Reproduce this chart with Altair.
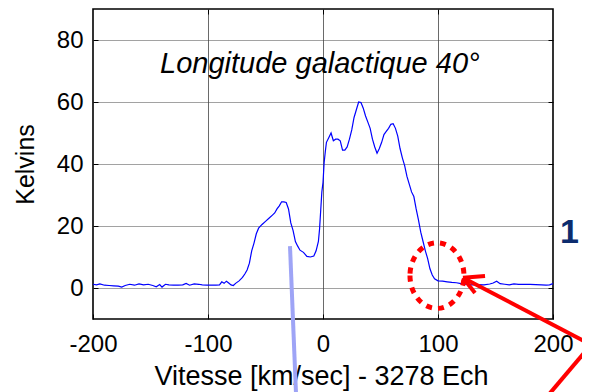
import altair as alt
import pandas as pd

FONT = "Liberation Sans"

# ---- spectrum ----
velocity = [-200, -197, -194, -190, -186, -182, -178, -175, -172, -168, -164, -160, -156, -152,
            -148, -145, -142, -140, -137, -134, -130, -126, -122, -119, -116, -112, -108, -105,
            -101, -97, -93, -90, -88, -86, -84, -82, -80, -78, -76, -73, -70, -68, -66, -64,
            -62, -60, -58, -56, -53, -50, -47, -44, -42, -40, -38, -36, -34, -32, -30, -28,
            -26, -24, -22, -20, -17, -14, -11, -8, -6, -4, -3, -2, -1, 0, 1, 2, 3, 5, 7, 9,
            11, 13, 15, 17, 19, 21, 23, 25, 27, 29, 31, 33, 35, 37, 39, 41, 43, 45, 47, 49,
            51, 53, 55, 57, 59, 61, 63, 65, 67, 69, 71, 73, 75, 77, 79, 81, 83, 85, 87, 89,
            91, 93, 95, 97, 100, 104, 108, 112, 116, 120, 125, 130, 135, 140, 145, 148, 151,
            154, 158, 162, 166, 170, 175, 180, 185, 190, 194, 197, 200]
kelvins = [1.2, 1.0, 1.3, 0.9, 0.8, 0.7, 0.6, 0.3, 0.8, 1.2, 0.9, 1.3, 1.0, 1.2,
           0.8, 0.4, 1.1, 0.3, 1.2, 1.0, 0.9, 0.9, 1.0, 1.5, 0.9, 1.3, 1.2, 1.0,
           0.9, 0.9, 0.9, 1.0, 2.0, 1.5, 2.2, 1.6, 1.0, 0.8, 1.5, 2.3, 3.4, 4.5, 5.8, 8.0,
           12.0, 14.5, 17.5, 19.3, 20.5, 21.5, 22.5, 23.5, 24.2, 25.5, 26.5, 27.8, 27.8, 27.6, 25.5, 21.0,
           18.5, 15.0, 13.5, 12.2, 11.5, 10.2, 10.0, 10.3, 12.0, 15.0, 19.0, 25.0, 31.0, 34.0, 40.5, 44.0, 47.0, 48.5, 50.0, 47.5,
           48.0, 48.0, 47.5, 44.5, 44.5, 45.5, 48.0, 51.0, 55.0, 57.5, 60.0, 59.8, 58.0, 55.5, 53.5, 51.5, 48.0, 45.5, 43.5, 45.0,
           47.0, 49.5, 50.5, 51.5, 52.8, 53.0, 51.5, 49.0, 45.0, 42.0, 39.5, 36.0, 33.5, 31.0, 29.5, 25.5, 22.0, 18.0, 15.0, 12.0,
           9.5, 6.2, 4.2, 3.0, 2.3, 2.2, 2.0, 1.8, 1.7, 1.4, 1.2, 1.0, 1.1, 1.0, 1.3, 1.6, 2.2,
           1.4, 1.2, 1.0, 1.3, 1.2, 1.2, 1.2, 1.1, 1.0, 0.9, 1.0, 1.4]

x_ticks = [-200, -100, 0, 100, 200]
x_grid = [-100, 0, 100]
y_ticks = [0, 20, 40, 60, 80]

# ---- annotations ----
title_text = ["Longitude galactique 40°"]
title_pos = [-141.7, 69.4]
side_text = ["1"]
side_pos = [206.0, 14.6]
blue_seg = [[-28.7, 13.5, -23.5, -33.9]]
red_segs = [[232.2, -18.1, 121.7, 3.3],
            [121.7, 3.3, 140.9, 3.9],
            [121.7, 3.3, 132.2, -1.6],
            [197.4, -33.9, 232.2, -18.7]]
ellipse_center = [99.1, 4.0]

df = pd.DataFrame({"v": velocity, "k": kelvins})

xs = alt.Scale(domain=[-200, 200], nice=False, zero=False)
ys = alt.Scale(domain=[-10, 90], nice=False, zero=False)

main_x_axis = alt.Axis(values=x_ticks, orient="bottom", offset=-5, tickSize=5, tickColor="black",
                       domain=False, grid=False,
                       labelFont=FONT, labelFontSize=24, labelColor="black", labelPadding=13,
                       labelFlush=False, labelOverlap=False, labelExpr="'' + datum.value",
                       title="Vitesse [km/sec] - 3278 Ech", titleFont=FONT, titleFontSize=27,
                       titleFontWeight="normal", titleColor="black",
                       titleX=228, titleY=70, titleBaseline="alphabetic", titleAlign="center",
                       titleAnchor="start")
main_y_axis = alt.Axis(values=y_ticks, orient="left", offset=-5, tickSize=5, tickColor="black",
                       domain=False, grid=True, gridColor="#444444", gridDash=[1, 1], gridWidth=1,
                       labelFont=FONT, labelFontSize=24, labelColor="black", labelPadding=10,
                       labelFlush=False, labelOverlap=False, labelExpr="'' + datum.value",
                       title="Kelvins", titleFont=FONT, titleFontSize=25, titleFontWeight="normal",
                       titleColor="black", titleX=-65, titleY=155, titleBaseline="alphabetic",
                       titleAlign="center", titleAngle=270, titleAnchor="start")

line = alt.Chart(df).mark_line(color="#0000ff", strokeWidth=1.2).encode(
    x=alt.X("v:Q", scale=xs, axis=main_x_axis),
    y=alt.Y("k:Q", scale=ys, axis=main_y_axis),
)

ticks_layer = alt.Chart(df).mark_line(opacity=0).encode(
    x=alt.X("v:Q", scale=xs, axis=alt.Axis(values=x_grid, orient="top", offset=-5, tickSize=5,
                                            tickColor="black", domain=False, grid=True,
                                            gridColor="#6a6a6a", gridWidth=1,
                                            labels=False, title=None)),
    y=alt.Y("k:Q", scale=ys, axis=alt.Axis(values=y_ticks, orient="right", offset=-5, tickSize=5,
                                            tickColor="black", domain=False, grid=False,
                                            labels=False, title=None)),
)

blue_df = pd.DataFrame(blue_seg, columns=["x", "y", "x2", "y2"])
blue = alt.Chart(blue_df).mark_rule(color="#9ea4f6", strokeWidth=4, clip=False).encode(
    x=alt.X("x:Q", scale=xs, axis=None), y=alt.Y("y:Q", scale=ys, axis=None),
    x2="x2:Q", y2="y2:Q")

red_df = pd.DataFrame(red_segs, columns=["x", "y", "x2", "y2"])
red = alt.Chart(red_df).mark_rule(color="#ff0000", strokeWidth=4, clip=False).encode(
    x=alt.X("x:Q", scale=xs, axis=None), y=alt.Y("y:Q", scale=ys, axis=None),
    x2="x2:Q", y2="y2:Q")

ell_df = pd.DataFrame({"x": [ellipse_center[0]], "y": [ellipse_center[1]]})
ellipse = alt.Chart(ell_df).mark_point(
    shape="M -0.823 0 A 0.823 1 0 1 0 0.823 0 A 0.823 1 0 1 0 -0.823 0 Z",
    size=4303, filled=False, color="#ff0000", strokeWidth=5, strokeDash=[6, 6],
    opacity=1, clip=False,
).encode(x=alt.X("x:Q", scale=xs, axis=None), y=alt.Y("y:Q", scale=ys, axis=None))

t_df = pd.DataFrame({"x": [title_pos[0]], "y": [title_pos[1]], "t": title_text})
title = alt.Chart(t_df).mark_text(font=FONT, fontSize=29, fontStyle="italic", align="left",
                                  baseline="alphabetic", color="black").encode(
    x=alt.X("x:Q", scale=xs, axis=None), y=alt.Y("y:Q", scale=ys, axis=None), text="t:N")

s_df = pd.DataFrame({"x": [side_pos[0]], "y": [side_pos[1]], "t": side_text})
side = alt.Chart(s_df).mark_text(font=FONT, fontSize=34, fontWeight="bold", align="left",
                                 baseline="alphabetic", color="#0c2c6e", clip=False).encode(
    x=alt.X("x:Q", scale=xs, axis=None), y=alt.Y("y:Q", scale=ys, axis=None), text="t:N")

chart = alt.layer(line, ticks_layer, blue, ellipse, red, title, side).resolve_axis(
    x="independent", y="independent"
).properties(
    width=460, height=310,
    padding={"left": 85, "top": 1, "right": 29, "bottom": 80},
    autosize=alt.AutoSizeParams(type="none"),
).configure(background="white").configure_view(stroke="black", strokeWidth=1.6)

chart.save("out.html", embed_options={"renderer": "svg", "actions": False})
